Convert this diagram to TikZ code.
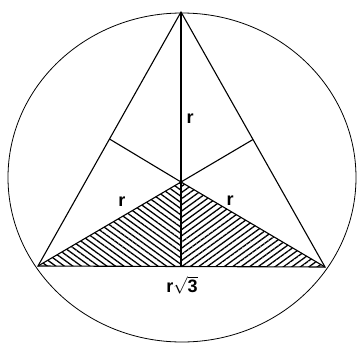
\documentclass[tikz,border=0pt]{standalone}
\usepackage{fontspec}
\setsansfont{Liberation Sans}
\usetikzlibrary{patterns.meta}
\tikzset{
    rim/.style={draw, line width=0.8pt},
    side/.style={draw, line width=1.1pt},
    hatch/.style={pattern={Lines[angle=#1, distance=5pt, line width=1.3pt]}},
    lenlabel/.style={font=\sffamily\bfseries\fontsize{18}{18}\selectfont, inner sep=1pt}
}

\begin{document}
\begin{tikzpicture}[x=1pt, y=-1pt]
\useasboundingbox (0,0) rectangle (358,343);

% points of the triangle
\coordinate (apex) at (181,12);
\coordinate (bl) at (38,266);
\coordinate (br) at (325,267);
\coordinate (ctr) at (181,182);
\coordinate (mid) at (181,266.5);
\coordinate (footl) at (109.5,139);
\coordinate (footr) at (253,139.5);

% shaded part
\fill[hatch=-36] (ctr) -- (bl) -- (mid) -- cycle;
\fill[hatch=36] (ctr) -- (mid) -- (br) -- cycle;

% circle round it
\draw[rim] (182,177.5) ellipse [x radius=174, y radius=164.5];

\draw[side] (apex) -- (bl) -- (br) -- cycle;
\draw[side] (apex) -- (ctr) -- (mid);
\draw[side] (footl) -- (ctr) -- (footr);
\draw[side] (bl) -- (ctr) -- (br);

\node[lenlabel] (rtop) at (190,119) {r};
\node[lenlabel] (rleft) at (122,202) {r};
\node[lenlabel] (rright) at (230,201) {r};
\node[lenlabel] (base) at (182,285) {r$\sqrt{\hbox{\sffamily\bfseries 3}}$};

\end{tikzpicture}
\end{document}
